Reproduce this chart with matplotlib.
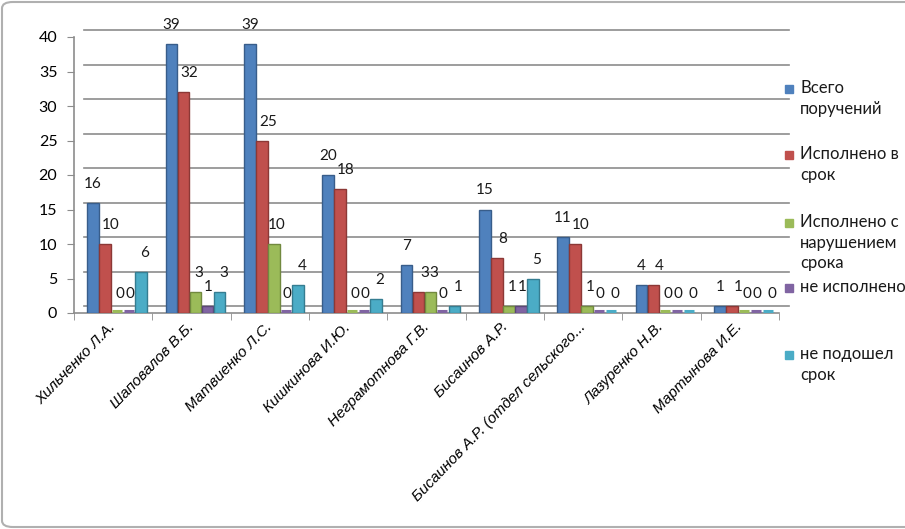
import numpy as np
import matplotlib
matplotlib.use("Agg")
import matplotlib.pyplot as plt
import matplotlib.transforms as mtransforms
from matplotlib.patches import FancyBboxPatch, Rectangle

plt.rcParams["font.family"] = ["Lato", "DejaVu Sans"]

categories = [
    "Хильченко Л.А.",
    "Шаповалов В.Б.",
    "Матвиенко Л.С.",
    "Кишкинова И.Ю.",
    "Неграмотнова Г.В.",
    "Бисаинов А.Р.",
    "Бисаинов А.Р. (отдел сельского...",
    "Лазуренко Н.В.",
    "Мартынова И.Е.",
]
series_names = [
    "Всего\nпоручений",
    "Исполнено в\nсрок",
    "Исполнено с\nнарушением\nсрока",
    "не исполнено",
    "не подошел\nсрок",
]
total = [16, 39, 39, 20, 7, 15, 11, 4, 1]
on_time = [10, 32, 25, 18, 3, 8, 10, 4, 1]
late = [0, 3, 10, 0, 3, 1, 1, 0, 0]
not_done = [0, 1, 0, 0, 0, 1, 0, 0, 0]
not_due = [6, 3, 4, 2, 1, 5, 0, 0, 0]
yticks = [0, 5, 10, 15, 20, 25, 30, 35, 40]

series = [total, on_time, late, not_done, not_due]
colors = ["#4F81BD", "#C0504D", "#9BBB59", "#8064A2", "#4BACC6"]
edges = ["#385D8A", "#8C3836", "#71893F", "#5C4776", "#357D91"]
# data label nudges (pixels), Excel shifts some labels sideways
label_dx = [0, 6, 3, 1, 4]

W, H = 905, 529
fig = plt.figure(figsize=(W / 100, H / 100), dpi=100)
ax = fig.add_axes([74 / W, 1 - 313 / H, 705 / W, 276 / H])

# chart frame
fig.patches.append(FancyBboxPatch((2 / W, 2 / H), 1.1, 1 - 4 / H,
                                  boxstyle="round,pad=0,rounding_size=0.012",
                                  transform=fig.transFigure, fill=False,
                                  edgecolor="#B0B0B0", linewidth=1.5))

n = len(categories)
x = np.arange(n)
bw = 0.153
back = mtransforms.offset_copy(ax.transData, fig=fig, x=10, y=7, units="dots")

# back wall grid + side wall stubs
for v in yticks:
    ax.plot([-0.5, n - 0.5], [v, v], color="#8C8C8C", lw=1.2,
            transform=back, clip_on=False, zorder=1)
    p0 = ax.transData.transform((-0.5, v))
    ax.plot([p0[0], p0[0] + 10], [p0[1], p0[1] + 7], color="#8C8C8C", lw=1.2,
            transform=None, clip_on=False, zorder=1)
p1 = ax.transData.transform((n - 0.5, 0))
ax.plot([p1[0], p1[0] + 10], [p1[1], p1[1] + 7], color="#8C8C8C", lw=1.2,
        transform=None, clip_on=False, zorder=1)

for j, vals in enumerate(series):
    xs = x + 0.05 + (j - 2) * bw
    vals = np.array(vals)
    ax.bar(xs, vals, width=bw * 0.97, color=colors[j], edgecolor=edges[j],
           linewidth=1.0, zorder=3)
    # zero values show as a flat disc on the floor
    zero = vals == 0
    ax.hlines(np.full(zero.sum(), 0.3), xs[zero] - bw * 0.42,
              xs[zero] + bw * 0.42, color=colors[j], lw=2.2, zorder=3)
    for xi, v in zip(xs, vals):
        ax.annotate(str(v), (xi, v), xytext=(label_dx[j], 19),
                    textcoords="offset pixels", ha="center", va="center",
                    fontsize=11, color="#1A1A1A", zorder=4,
                    annotation_clip=False)

ax.set_xlim(-0.5, n - 0.5)
ax.set_ylim(0, 40)
ax.set_yticks(yticks)
ax.tick_params(axis="y", length=5, pad=7, labelsize=11.5, color="#8C8C8C")
ax.set_xticks(x - 0.06)
ax.set_xticklabels(categories, rotation=46, ha="right", rotation_mode="anchor",
                   fontsize=11, style="italic", family=["Liberation Sans"])
ax.tick_params(axis="x", length=0, pad=5)
ax.set_xticks(np.arange(-0.5, n), minor=True)
ax.tick_params(axis="x", which="minor", length=5, color="#8C8C8C")
for s in ["top", "right"]:
    ax.spines[s].set_visible(False)
for s in ["left", "bottom"]:
    ax.spines[s].set_color("#8C8C8C")
    ax.spines[s].set_linewidth(1.2)
ax.patch.set_visible(False)

# legend, placed like the original
leg_y = [89, 155, 223, 288, 355]
for name, c, yy in zip(series_names, colors, leg_y):
    fig.patches.append(Rectangle((785 / W, 1 - (yy + 4) / H), 8 / W, 8 / H,
                                 transform=fig.transFigure, color=c))
    fig.text(800 / W, 1 - (yy - 9) / H, name, fontsize=12, va="top",
             ha="left", linespacing=1.35, color="#1A1A1A")

fig.savefig("out.png", dpi=100)
